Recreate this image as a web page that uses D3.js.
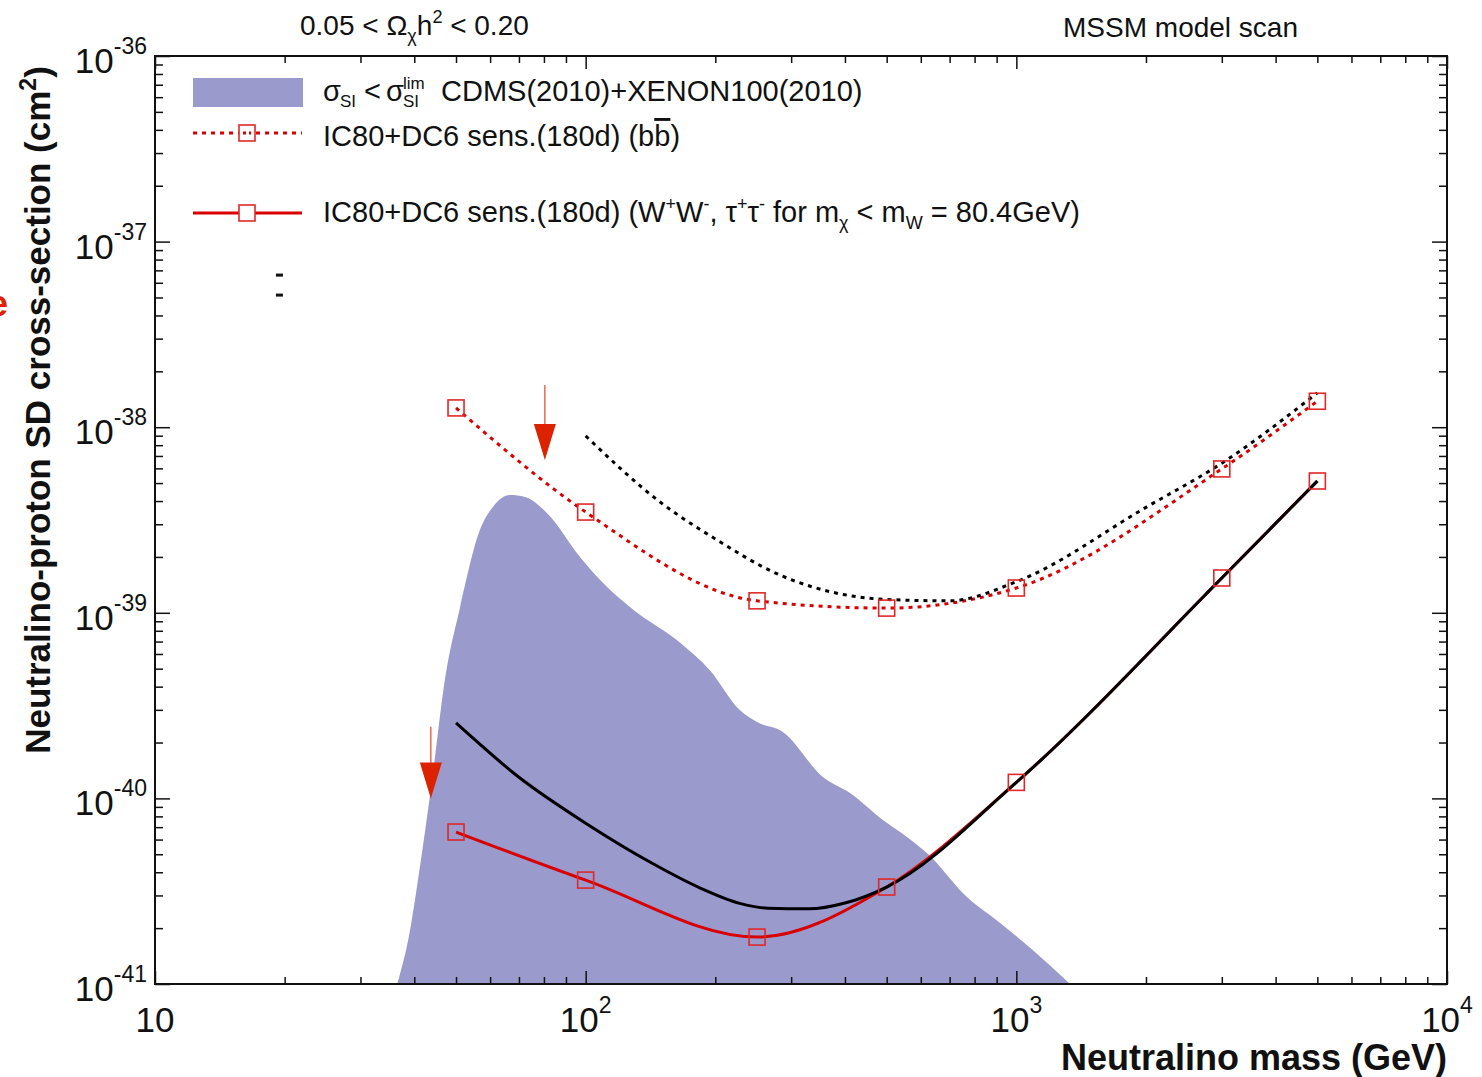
<!DOCTYPE html>
<html>
<head>
<meta charset="utf-8">
<script src="https://cdn.jsdelivr.net/npm/d3@7"></script>
<style>
  body { margin: 0; background: #fff; }
  text { font-family: "Liberation Sans", Arial, sans-serif; fill: #111; }
</style>
</head>
<body>
<div id="chart"></div>
<script>

// ---- data ----
// allowed MSSM models (CDMS+XENON100), upper envelope
var cdmsMass  = [36.5, 39.1, 40.8, 44.0, 47.1, 51.1, 56.8, 60.9, 66.7, 72.3, 81.3, 97.0, 112, 129, 166, 194, 228, 250, 287, 356, 411, 490, 557, 620, 768, 917, 1093, 1332];
var cdmsSigma = [1e-41, 1.95e-41, 3.63e-41, 1.26e-40, 4.35e-40, 1.07e-39, 2.79e-39, 3.72e-39, 4.31e-39, 4.21e-39, 3.45e-39, 2.00e-39, 1.38e-39, 1.04e-39, 6.88e-40, 4.92e-40, 2.99e-40, 2.58e-40, 2.28e-40, 1.30e-40, 1.07e-40, 7.65e-41, 6.20e-41, 5.08e-41, 2.94e-41, 2.13e-41, 1.52e-41, 1e-41];

// IC80+DC6 sensitivity, red markers
var sensMass    = [50, 100, 250, 500, 1000, 3000, 5000];
var sensBBSigma = [1.27e-38, 3.49e-39, 1.16e-39, 1.06e-39, 1.36e-39, 5.96e-39, 1.38e-38];
var sensWWSigma = [6.59e-41, 3.63e-41, 1.79e-41, 3.33e-41, 1.22e-40, 1.54e-39, 5.13e-39];

// black reference curves
var blackSoftMass  = [100, 150, 200, 282, 400, 500, 700, 1000, 2000, 3000, 5000];
var blackSoftSigma = [8.97e-39, 3.9e-39, 2.5e-39, 1.6e-39, 1.25e-39, 1.18e-39, 1.16e-39, 1.47e-39, 3.7e-39, 6.4e-39, 1.53e-38];
var blackHardMass  = [50, 70, 100, 141, 184, 228, 265, 330, 400, 500, 1000, 3000, 5000];
var blackHardSigma = [2.55e-40, 1.30e-40, 7.35e-41, 4.54e-41, 3.3e-41, 2.72e-41, 2.56e-41, 2.54e-41, 2.73e-41, 3.33e-41, 1.22e-40, 1.54e-39, 5.13e-39];

// red arrows (mass, top, tip)
var arrowMass = [80.4, 43.7];
var arrowTop  = [1.69e-38, 2.43e-40];
var arrowTip  = [6.65e-39, 1e-40];

// stray marks near the upper left
var strayMass  = [19.4, 19.4];
var straySigma = [6.6e-38, 5.15e-38];

// ticks
var xMajor = [10, 100, 1000, 10000];
var xMajorExp = ["", "2", "3", "4"];
var yMajor = [1e-36, 1e-37, 1e-38, 1e-39, 1e-40, 1e-41];
var yMajorExp = ["-36", "-37", "-38", "-39", "-40", "-41"];

// ---- layout ----
var margin = {top: 56, right: 35, bottom: 93, left: 155},
    width = 1482 - margin.left - margin.right,
    height = 1077 - margin.top - margin.bottom;

var RED = "#d80000", SQ = "#e02828", FILL = "#9a9acc";

var root = d3.select("#chart")
  .append("svg")
    .attr("width", 1482)
    .attr("height", 1077);

var svg = root.append("g")
    .attr("transform", "translate(" + margin.left + "," + margin.top + ")");

var x = d3.scaleLog().domain([10, 10000]).range([0, width]);
var y = d3.scaleLog().domain([1e-41, 1e-36]).range([height, 0]);

svg.append("clipPath").attr("id", "plotclip")
  .append("rect").attr("width", width).attr("height", height);

var plot = svg.append("g").attr("clip-path", "url(#plotclip)");

// filled region
var cdms = cdmsMass.map(function(m, i) { return {m: m, s: cdmsSigma[i]}; });
plot.append("path")
  .datum(cdms)
  .attr("fill", FILL)
  .attr("d", d3.area()
    .x(function(d) { return x(d.m); })
    .y0(height)
    .y1(function(d) { return y(d.s); })
    .curve(d3.curveMonotoneX));

function pairs(ms, ss) { return ms.map(function(m, i) { return {m: m, s: ss[i]}; }); }

var line = d3.line()
  .x(function(d) { return x(d.m); })
  .y(function(d) { return y(d.s); })
  .curve(d3.curveMonotoneX);

// red curves
plot.append("path").datum(pairs(sensMass, sensBBSigma))
  .attr("fill", "none").attr("stroke", RED).attr("stroke-width", 3)
  .attr("stroke-dasharray", "4,5").attr("d", line);
plot.append("path").datum(pairs(sensMass, sensWWSigma))
  .attr("fill", "none").attr("stroke", RED).attr("stroke-width", 3).attr("d", line);

// black curves
plot.append("path").datum(pairs(blackSoftMass, blackSoftSigma))
  .attr("fill", "none").attr("stroke", "#000").attr("stroke-width", 3)
  .attr("stroke-dasharray", "4,5").attr("d", line);
plot.append("path").datum(pairs(blackHardMass, blackHardSigma))
  .attr("fill", "none").attr("stroke", "#000").attr("stroke-width", 3).attr("d", line);

// square markers
[sensBBSigma, sensWWSigma].forEach(function(ss) {
  plot.selectAll(null)
    .data(pairs(sensMass, ss))
    .enter()
    .append("rect")
      .attr("x", function(d) { return x(d.m) - 8; })
      .attr("y", function(d) { return y(d.s) - 8; })
      .attr("width", 16).attr("height", 16)
      .attr("fill", "none").attr("stroke", SQ).attr("stroke-width", 1.6);
});

// arrows
var arrows = arrowMass.map(function(m, i) { return {m: m, t: arrowTop[i], p: arrowTip[i]}; });
arrows.forEach(function(a) {
  var ax = x(a.m), at = y(a.t), ap = y(a.p);
  svg.append("line")
    .attr("x1", ax).attr("x2", ax).attr("y1", at).attr("y2", ap - 30)
    .attr("stroke", "#e8503a").attr("stroke-width", 1.3);
  svg.append("path")
    .attr("d", "M" + (ax - 11) + "," + (ap - 36) + "L" + (ax + 11) + "," + (ap - 36) + "L" + ax + "," + ap + "Z")
    .attr("fill", "#dd2200");
});

// stray dashes
svg.selectAll(null)
  .data(pairs(strayMass, straySigma))
  .enter()
  .append("rect")
    .attr("x", function(d) { return x(d.m) - 3; })
    .attr("y", function(d) { return y(d.s) - 1.5; })
    .attr("width", 7).attr("height", 3)
    .attr("fill", "#111");

// ---- axes: ROOT-style ticks inside on all sides ----
var xMinor = [], yMinor = [];
[10, 100, 1000].forEach(function(d) { for (var k = 2; k <= 9; k++) xMinor.push(d * k); });
yMajor.slice(1).forEach(function(d) { for (var k = 2; k <= 9; k++) yMinor.push(d * k); });

function ticks(g, axis) {
  g.call(axis).call(function(s) { s.select(".domain").remove(); s.selectAll("text").remove(); });
  g.selectAll("line").attr("stroke", "#111").attr("stroke-width", 1.5);
}

ticks(svg.append("g").attr("transform", "translate(0," + height + ")"),
  d3.axisBottom(x).tickValues(xMinor).tickSize(-7));
ticks(svg.append("g").attr("transform", "translate(0," + height + ")"),
  d3.axisBottom(x).tickValues(xMajor).tickSize(-13));
ticks(svg.append("g"), d3.axisTop(x).tickValues(xMinor).tickSize(-7));
ticks(svg.append("g"), d3.axisTop(x).tickValues(xMajor).tickSize(-13));
ticks(svg.append("g"), d3.axisLeft(y).tickValues(yMinor).tickSize(-8));
ticks(svg.append("g"), d3.axisLeft(y).tickValues(yMajor).tickSize(-15));
ticks(svg.append("g").attr("transform", "translate(" + width + ",0)"),
  d3.axisRight(y).tickValues(yMinor).tickSize(-8));
ticks(svg.append("g").attr("transform", "translate(" + width + ",0)"),
  d3.axisRight(y).tickValues(yMajor).tickSize(-15));

// frame
svg.append("rect")
  .attr("width", width).attr("height", height)
  .attr("fill", "none").attr("stroke", "#111").attr("stroke-width", 2);

// tick labels
xMajor.forEach(function(v, i) {
  var t = svg.append("text")
    .attr("x", x(v)).attr("y", height + 48)
    .attr("text-anchor", "middle")
    .style("font-size", "35px");
  t.append("tspan").text("10");
  if (xMajorExp[i]) t.append("tspan").attr("dy", -19).style("font-size", "23px").text(xMajorExp[i]);
});

yMajor.forEach(function(v, i) {
  var t = svg.append("text")
    .attr("x", -8).attr("y", y(v) + 17)
    .attr("text-anchor", "end")
    .style("font-size", "35px");
  t.append("tspan").text("10");
  t.append("tspan").attr("dy", -19).style("font-size", "23px").text(yMajorExp[i]);
});

// axis titles
root.append("text")
  .attr("x", 1447).attr("y", 1070)
  .attr("text-anchor", "end")
  .style("font-size", "36px").style("font-weight", "bold")
  .text("Neutralino mass (GeV)");

var yt = root.append("text")
  .attr("transform", "translate(50,410) rotate(-90)")
  .attr("text-anchor", "middle")
  .style("font-size", "35px").style("font-weight", "bold");
yt.append("tspan").text("Neutralino-proton SD cross-section (cm");
yt.append("tspan").attr("dy", -14).style("font-size", "23px").text("2");
yt.append("tspan").attr("dy", 14).text(")");

// cropped red letter at the left edge
root.append("text")
  .attr("x", -12).attr("y", 316)
  .style("font-size", "36px").style("font-weight", "bold").style("fill", "#e02200")
  .text("e");

// top captions
var cap = root.append("text").attr("x", 300).attr("y", 35).style("font-size", "28px");
cap.append("tspan").text("0.05 < \u03A9");
cap.append("tspan").attr("dy", 7).style("font-size", "18px").text("\u03C7");
cap.append("tspan").attr("dy", -7).text("h");
cap.append("tspan").attr("dy", -12).style("font-size", "18px").text("2");
cap.append("tspan").attr("dy", 12).text(" < 0.20");

root.append("text").attr("x", 1298).attr("y", 37)
  .attr("text-anchor", "end").style("font-size", "28px")
  .text("MSSM model scan");

// ---- legend ----
var lg = root.append("g");
lg.append("rect").attr("x", 193).attr("y", 78).attr("width", 110).attr("height", 29).attr("fill", FILL);

var l1 = lg.append("g").style("font-size", "29px");
l1.append("text").attr("x", 323).attr("y", 101).text("\u03C3");
l1.append("text").attr("x", 340).attr("y", 107).style("font-size", "17px").text("SI");
l1.append("text").attr("x", 364).attr("y", 101).text("<");
l1.append("text").attr("x", 386).attr("y", 101).text("\u03C3");
l1.append("text").attr("x", 403).attr("y", 89).style("font-size", "17px").text("lim");
l1.append("text").attr("x", 403).attr("y", 107).style("font-size", "17px").text("SI");
l1.append("text").attr("x", 441).attr("y", 101).text("CDMS(2010)+XENON100(2010)");

lg.append("line").attr("x1", 193).attr("x2", 302).attr("y1", 133).attr("y2", 133)
  .attr("stroke", RED).attr("stroke-width", 3).attr("stroke-dasharray", "4,5");
lg.append("rect").attr("x", 239).attr("y", 125).attr("width", 16).attr("height", 16)
  .attr("fill", "#fff").attr("stroke", SQ).attr("stroke-width", 1.6);
lg.append("line").attr("x1", 243).attr("x2", 251).attr("y1", 133).attr("y2", 133)
  .attr("stroke", RED).attr("stroke-width", 3).attr("stroke-dasharray", "3,3");
var l2 = lg.append("text").attr("x", 323).attr("y", 146).style("font-size", "29px");
l2.append("tspan").text("IC80+DC6 sens.(180d) (b");
l2.append("tspan").style("text-decoration", "overline").text("b");
l2.append("tspan").text(")");

lg.append("line").attr("x1", 193).attr("x2", 302).attr("y1", 213).attr("y2", 213)
  .attr("stroke", RED).attr("stroke-width", 3);
lg.append("rect").attr("x", 239).attr("y", 205).attr("width", 16).attr("height", 16)
  .attr("fill", "#fff").attr("stroke", SQ).attr("stroke-width", 1.6);
var l3 = lg.append("text").attr("x", 323).attr("y", 222).style("font-size", "29px");
l3.append("tspan").text("IC80+DC6 sens.(180d) (W");
l3.append("tspan").attr("dy", -12).style("font-size", "18px").text("+");
l3.append("tspan").attr("dy", 12).text("W");
l3.append("tspan").attr("dy", -12).style("font-size", "18px").text("-");
l3.append("tspan").attr("dy", 12).text(", \u03C4");
l3.append("tspan").attr("dy", -12).style("font-size", "18px").text("+");
l3.append("tspan").attr("dy", 12).text("\u03C4");
l3.append("tspan").attr("dy", -12).style("font-size", "18px").text("-");
l3.append("tspan").attr("dy", 12).text("  for m");
l3.append("tspan").attr("dy", 7).style("font-size", "18px").text("\u03C7");
l3.append("tspan").attr("dy", -7).text("  < m");
l3.append("tspan").attr("dy", 7).style("font-size", "18px").text("W");
l3.append("tspan").attr("dy", -7).text(" = 80.4GeV)");

</script>
</body>
</html>
